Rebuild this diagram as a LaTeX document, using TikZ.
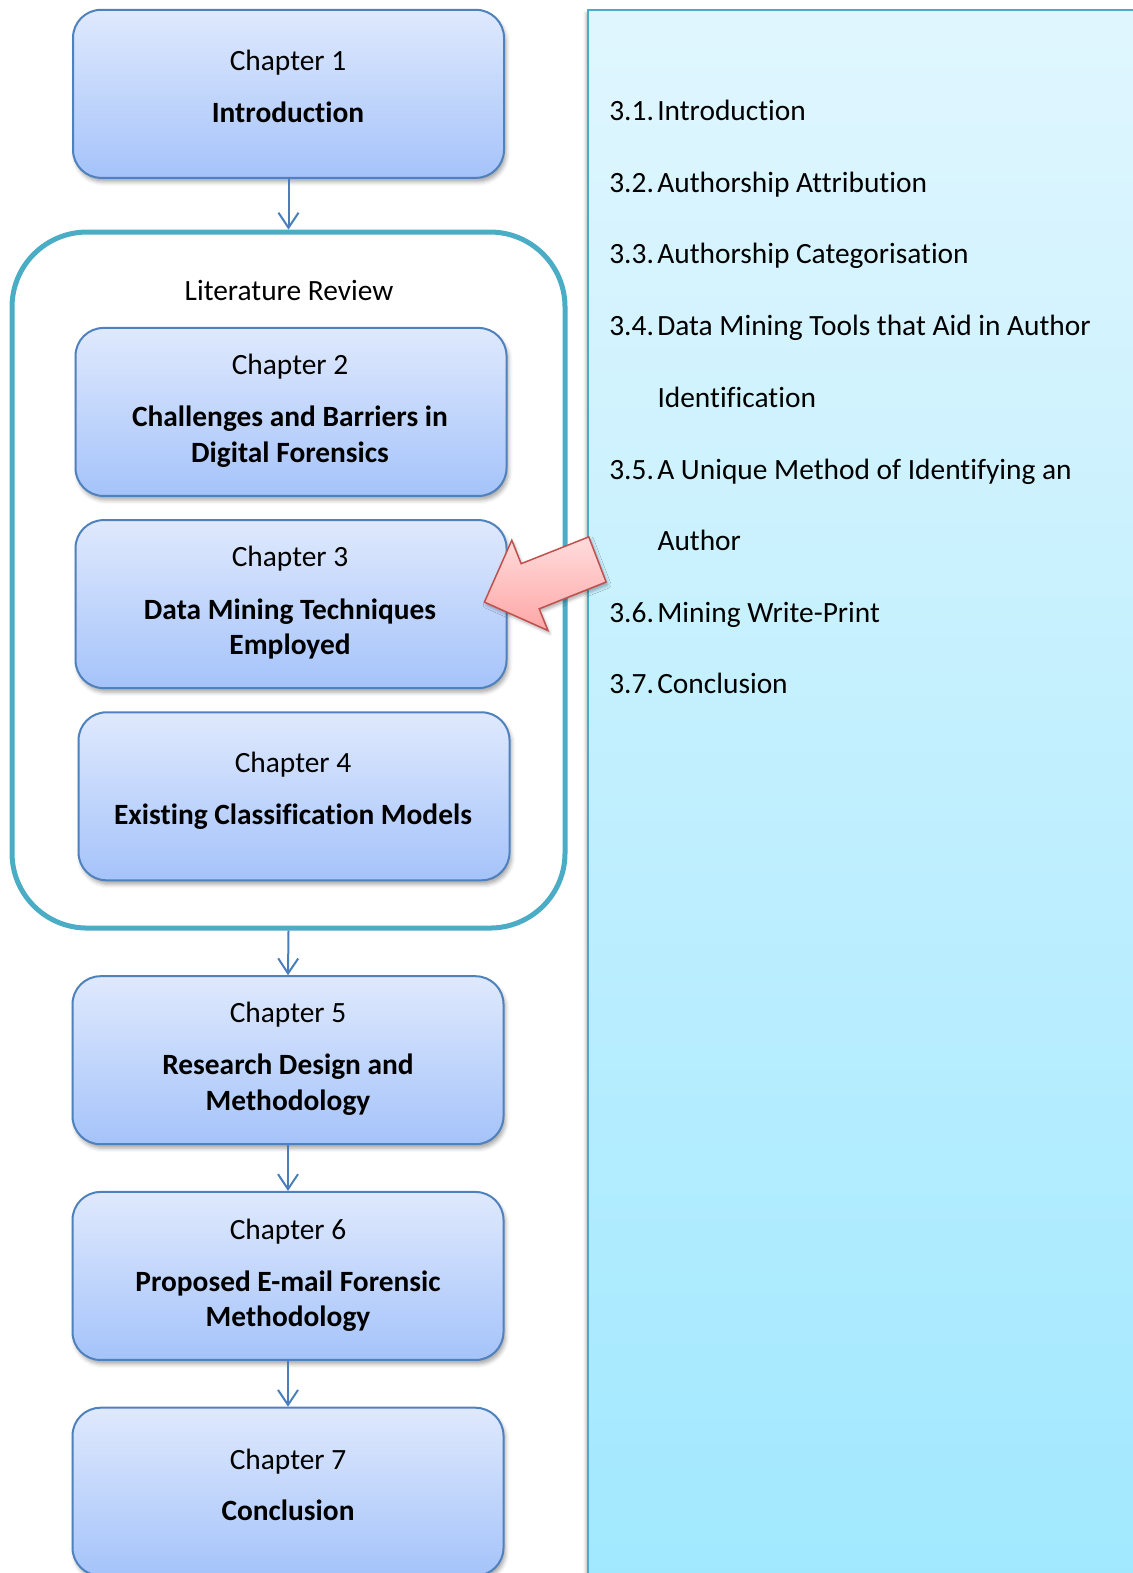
\documentclass[tikz,border=0pt]{standalone}
\usepackage{fontspec}
\setmainfont{Carlito}[Ligatures=NoCommon]
\usetikzlibrary{arrows.meta,shadows.blur}

\definecolor{boxedge}{HTML}{4F81BD}
\definecolor{boxtop}{HTML}{DFE9FD}
\definecolor{boxbot}{HTML}{A5C3FA}
\definecolor{teal}{HTML}{4BACC6}
\definecolor{linkblue}{HTML}{4A7EBB}
\definecolor{paneltop}{HTML}{E0F6FE}
\definecolor{panelbot}{HTML}{A0E8FF}
\definecolor{pinkedge}{HTML}{C0504D}
\definecolor{pinktop}{HTML}{FFDCDC}
\definecolor{pinkbot}{HTML}{FFA6A6}

\tikzset{
  chbox/.style={rounded corners=28pt, draw=boxedge, line width=2pt,
    top color=boxtop, bottom color=boxbot,
    minimum width=431pt, minimum height=168pt, inner sep=0pt,
    blur shadow={shadow xshift=2pt, shadow yshift=-4pt,
      shadow blur radius=4pt, shadow opacity=35}},
  group/.style={rounded corners=75pt, draw=teal, line width=5pt,
    minimum width=553pt, minimum height=696pt, inner sep=0pt},
  txt/.style={font=\fontsize{29.4}{35}\selectfont, inner sep=0pt, anchor=base},
  btxt/.style={txt, font=\fontsize{29.4}{35}\selectfont\bfseries},
  item/.style={font=\fontsize{29.4}{35}\selectfont, inner sep=0pt, anchor=base west},
  link/.style={draw=linkblue, line width=2pt,
    -{Straight Barb[length=15pt,width=20pt,line width=2pt]}},
}

\begin{document}
\begin{tikzpicture}[x=1.0035pt,y=-1.0035pt]
\useasboundingbox (0,0) rectangle (1129,1567.5);

% section panel on the right
\path[draw=teal, line width=2pt, top color=paneltop, bottom color=panelbot,
  blur shadow={shadow xshift=-2pt, shadow yshift=-3pt, shadow blur radius=3pt, shadow opacity=30}]
  (586,10) rectangle (1160,1600);

% chapter boxes
\node[chbox] (c1) at (287.5,93.5) {};
\node[group] (lit) at (287.5,578) {};
\node[chbox] (c2) at (290,410.5) {};
\node[chbox] (c3) at (290,602) {};
\node[chbox] (c4) at (293,793.5) {};
\node[chbox] (c5) at (287,1056.5) {};
\node[chbox] (c6) at (287,1271.5) {};
\node[chbox] (c7) at (287,1486.5) {};

% box texts
\node[txt]  (c1a) at (287,70)  {Chapter 1};
\node[btxt] (c1b) at (287,122) {Introduction};

\node[txt]  (lita) at (288,299) {Literature Review};

\node[txt]  (c2a) at (289,373) {Chapter 2};
\node[btxt] (c2b) at (289,425) {Challenges and Barriers in};
\node[btxt] (c2c) at (289,461) {Digital Forensics};

\node[txt]  (c3a) at (289,565) {Chapter 3};
\node[btxt] (c3b) at (289,617) {Data Mining Techniques};
\node[btxt] (c3c) at (289,652) {Employed};

\node[txt]  (c4a) at (292,770) {Chapter 4};
\node[btxt] (c4b) at (292,822) {Existing Classification Models};

\node[txt]  (c5a) at (287,1019) {Chapter 5};
\node[btxt] (c5b) at (287,1071) {Research Design and};
\node[btxt] (c5c) at (287,1107) {Methodology};

\node[txt]  (c6a) at (287,1235) {Chapter 6};
\node[btxt] (c6b) at (287,1287) {Proposed E-mail Forensic};
\node[btxt] (c6c) at (287,1322) {Methodology};

\node[txt]  (c7a) at (287,1464) {Chapter 7};
\node[btxt] (c7b) at (287,1515) {Conclusion};

% flow connectors
\draw[link] (c1.south) -- (lit.north);
\draw[link] (lit.south) -- (c5.north);
\draw[link] (c5.south) -- (c6.north);
\draw[link] (c6.south) -- (c7.north);

% section list of chapter 3
\node[item] (s1) at (607,120)   {\makebox[48pt][l]{3.1.}Introduction};
\node[item] (s2) at (607,191.5) {\makebox[48pt][l]{3.2.}Authorship Attribution};
\node[item] (s3) at (607,263)   {\makebox[48pt][l]{3.3.}Authorship Categorisation};
\node[item] (s4) at (607,334.5) {\makebox[48pt][l]{3.4.}Data Mining Tools that Aid in Author};
\node[item] (s4b) at (655,406)  {Identification};
\node[item] (s5) at (607,477.5) {\makebox[48pt][l]{3.5.}A Unique Method of Identifying an};
\node[item] (s5b) at (655,549)  {Author};
\node[item] (s6) at (607,620)   {\makebox[48pt][l]{3.6.}Mining Write-Print};
\node[item] (s7) at (607,691.5) {\makebox[48pt][l]{3.7.}Conclusion};

% block arrow pointing at chapter 3
\path[draw=pinkedge, line width=1.5pt, line join=miter,
  top color=pinktop, bottom color=pinkbot,
  blur shadow={shadow xshift=2pt, shadow yshift=-3pt, shadow blur radius=3pt, shadow opacity=30}]
  (482.7,600) -- (510,538.3) -- (519.3,561.7) -- (586.7,535)
  -- (604,580) -- (537.3,606.7) -- (546,628.3) -- cycle;
\end{tikzpicture}
\end{document}
